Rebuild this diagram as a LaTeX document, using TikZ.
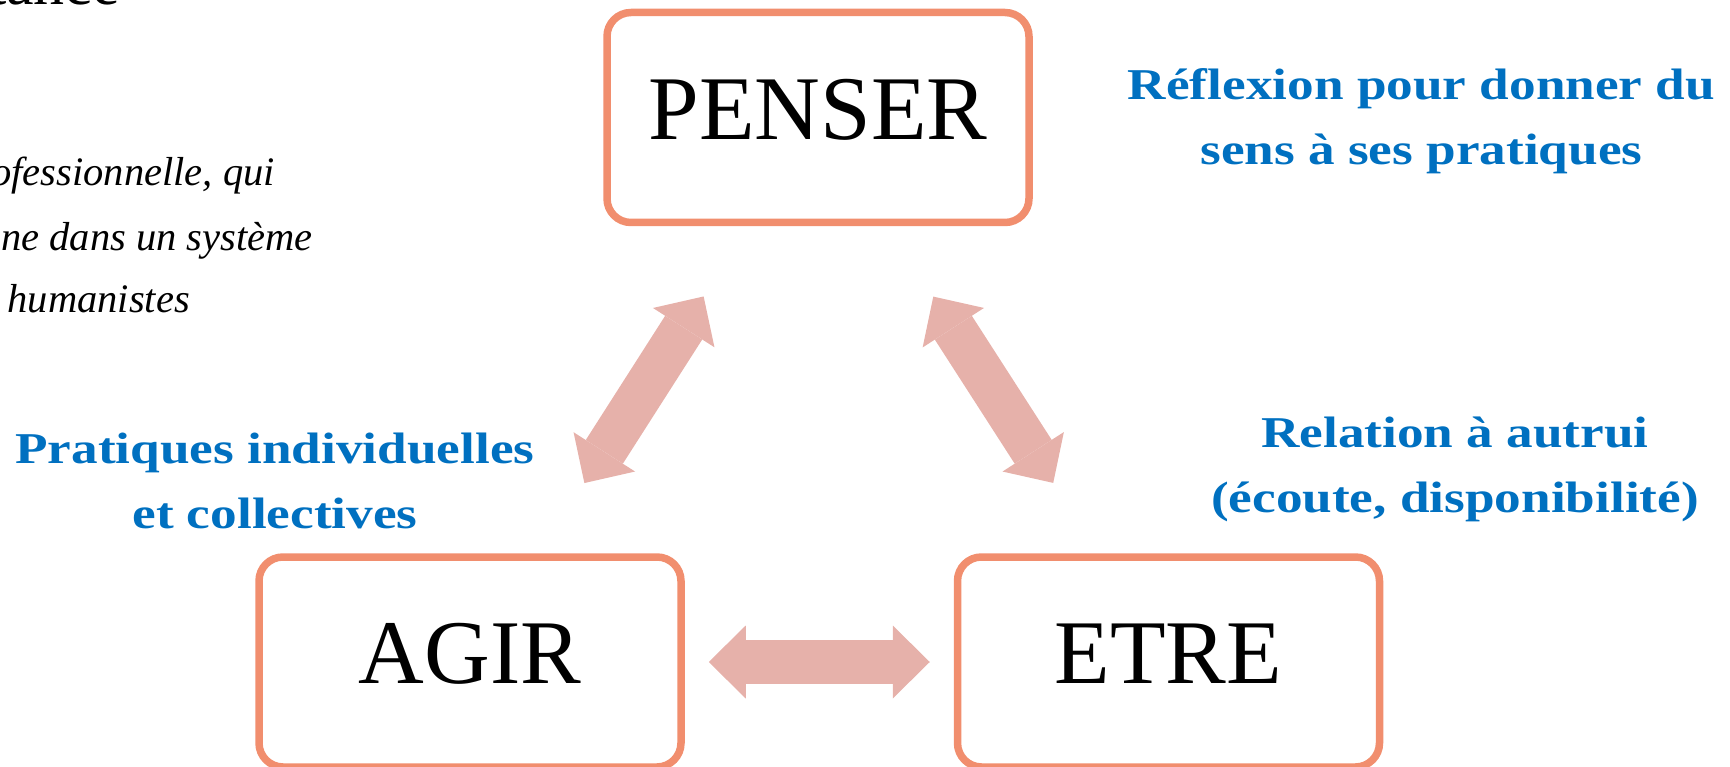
\documentclass[tikz,border=0pt]{standalone}
\usepackage{fontspec}
\setmainfont{Liberation Serif}
\newfontfamily\labelfont[FakeStretch=1.21]{Liberation Serif}
\usetikzlibrary{arrows.meta}

\definecolor{boxorange}{RGB}{241,142,110}
\definecolor{arrowpink}{RGB}{230,177,170}
\definecolor{labelblue}{RGB}{0,112,192}

\tikzset{
  stagebox/.style={draw=boxorange, line width=7.5pt, rounded corners=24pt,
    fill=white, minimum width=422pt, minimum height=210pt, inner sep=0pt,
    text depth=17pt, font=\fontsize{91}{100}\selectfont},
  bigtip/.tip={Triangle[length=37pt, width=73pt, line width=0pt]},
  bigarrow/.style={draw=arrowpink, line width=44pt, bigtip-bigtip},
  bluelabel/.style={text=labelblue, align=center, inner sep=0pt,
    font=\labelfont\bfseries\fontsize{44}{65}\selectfont},
  sidetext/.style={inner sep=0pt, font=\itshape\fontsize{40.5}{64}\selectfont}
}

\begin{document}
\begin{tikzpicture}[x=1pt, y=-1pt]
  \useasboundingbox (0,0) rectangle (1730,767);
  \clip (0,0) rectangle (1730,767);

  % partly visible heading and definition on the left
  \node[inner sep=0pt, anchor=base east, font=\fontsize{62}{70}\selectfont]
    (heading) at (120,5) {tance};
  \node[sidetext, anchor=base east] (def1) at (275,186) {ofessionnelle, qui};
  \node[sidetext, anchor=base east] (def2) at (313,251) {ne dans un système};
  \node[sidetext, anchor=base east] (def3) at (190,313) {humanistes};

  % the three stages
  \node[stagebox] (penser) at (818,117.5) {PENSER};
  \node[stagebox] (agir)   at (470,662)   {AGIR};
  \node[stagebox] (etre)   at (1168.5,662) {ETRE};

  % two-way links between stages
  \draw[bigarrow, shorten <=212.4pt, shorten >=212.4pt]
    (penser.center) -- (agir.center);
  \draw[bigarrow, shorten <=213pt, shorten >=213pt]
    (penser.center) -- (etre.center);
  \draw[bigarrow, shorten <=238.75pt, shorten >=238.75pt]
    (agir.center) -- (etre.center);

  % descriptions (anchored on the baseline of their last line)
  \node[bluelabel, anchor=base] (reflexion) at (1421.5,165)
    {Réflexion pour donner du\\sens à ses pratiques};
  \node[bluelabel, anchor=base] (pratiques) at (275,528)
    {Pratiques individuelles\\et collectives};
  \node[bluelabel, anchor=base] (relation) at (1455,512)
    {Relation à autrui\\(écoute, disponibilité)};
\end{tikzpicture}
\end{document}
